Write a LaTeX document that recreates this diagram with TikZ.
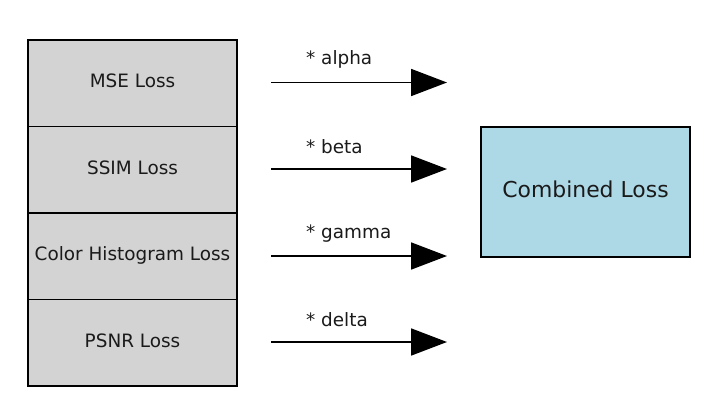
\documentclass[tikz,border=0pt]{standalone}
\usepackage{fontspec}
\setmainfont{DejaVu Sans}
\usetikzlibrary{arrows.meta}
\definecolor{boxgray}{HTML}{D3D3D3}
\definecolor{lblue}{HTML}{ADD8E6}
\definecolor{txt}{HTML}{1A1A1A}
\begin{document}
\begin{tikzpicture}[x=1pt,y=-1pt,
  lossbox/.style={draw=black,line width=1.3pt,fill=boxgray,minimum width=209pt,minimum height=86.5pt,inner sep=0pt,text=txt,text height=13.4pt,text depth=4.2pt,font=\fontsize{18.4}{20}\selectfont},
  combbox/.style={draw=black,line width=1.3pt,fill=lblue,minimum width=209pt,minimum height=130pt,inner sep=0pt,text=txt,text height=16pt,text depth=5pt,font=\fontsize{21.9}{24}\selectfont},
  wlabel/.style={anchor=west,inner sep=0pt,text=txt,font=\fontsize{18.4}{20}\selectfont},
  weightarrow/.style={line width=1.8pt,-{Triangle[length=36pt,width=27pt]}}]
\useasboundingbox (0,0) rectangle (725,407);
\node[lossbox] (mse) at (132.5,83.25) {MSE Loss};
\node[lossbox] (ssim) at (132.5,169.75) {SSIM Loss};
\node[lossbox] (hist) at (132.5,256.25) {Color Histogram Loss};
\node[lossbox] (psnr) at (132.5,342.75) {PSNR Loss};
\node[combbox] (comb) at (585.5,192) {Combined Loss};
\coordinate (s1) at (271,82.5); \coordinate (e1) at (447,82.5);
\coordinate (s2) at (271,169); \coordinate (e2) at (447,169);
\coordinate (s3) at (271,256); \coordinate (e3) at (447,256);
\coordinate (s4) at (271,342); \coordinate (e4) at (447,342);
\draw[weightarrow] (s1) -- (e1);
\draw[weightarrow] (s2) -- (e2);
\draw[weightarrow] (s3) -- (e3);
\draw[weightarrow] (s4) -- (e4);
\node[wlabel] (l1) at (306,59.5) {* alpha};
\node[wlabel] (l2) at (306,146.5) {* beta};
\node[wlabel] (l3) at (306,233.5) {* gamma};
\node[wlabel] (l4) at (306,319.5) {* delta};
\end{tikzpicture}
\end{document}
